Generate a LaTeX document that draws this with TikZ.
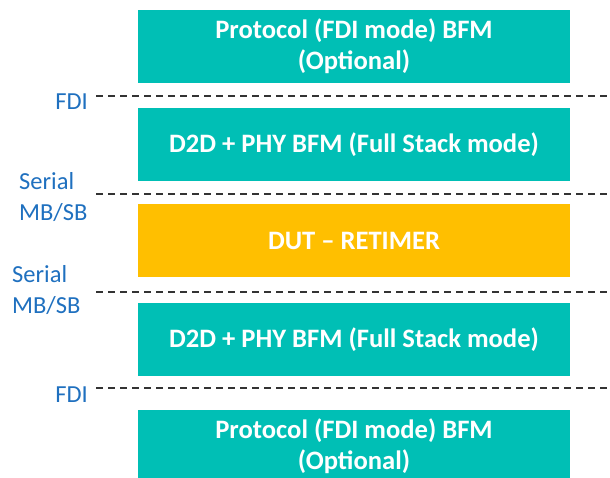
\documentclass[tikz,border=0pt]{standalone}
\usepackage{fontspec}
\setmainfont{Carlito}
\usepackage{tikz}
\definecolor{bfmteal}{rgb}{0.0,0.75,0.71}
\definecolor{dutamber}{rgb}{1.0,0.75,0.0}
\definecolor{lblblue}{rgb}{0.12,0.44,0.75}
\definecolor{dashgray}{rgb}{0.2,0.2,0.2}
\tikzset{
  layerbox/.style={minimum width=432pt,minimum height=73pt,inner sep=0pt,align=center,
    text=white,font=\fontsize{26.6}{31}\selectfont\bfseries},
  bfmbox/.style={layerbox,fill=bfmteal},
  dutbox/.style={layerbox,fill=dutamber},
  ifline/.style={color=dashgray,line width=1.3pt,dash pattern=on 7pt off 5pt},
  iflabel/.style={text=lblblue,inner sep=0pt,align=left,font=\fontsize{24.5}{31}\selectfont}
}
\begin{document}
\begin{tikzpicture}[line cap=butt,line join=round,x=1pt,y=-1pt]
\clip (0,0) rectangle (610,478);
\useasboundingbox (0,0) rectangle (610,478);

% layers
\node[bfmbox] (protoTop) at (354,46.5) {Protocol (FDI mode) BFM\\(Optional)};
\node[bfmbox] (d2dTop) at (354,144.5) {D2D + PHY BFM (Full Stack mode)};
\node[dutbox] (dut) at (354,240.5) {DUT -- RETIMER};
\node[bfmbox] (d2dBot) at (354,339.5) {D2D + PHY BFM (Full Stack mode)};
\node[bfmbox] (protoBot) at (354,446) {Protocol (FDI mode) BFM\\(Optional)};

% interfaces
\coordinate (fdiTopL) at (96,96);
\coordinate (fdiTopR) at (610,96);
\coordinate (serTopL) at (96,194);
\coordinate (serTopR) at (610,194);
\coordinate (serBotL) at (96,292);
\coordinate (serBotR) at (610,292);
\coordinate (fdiBotL) at (96,388);
\coordinate (fdiBotR) at (610,388);
\draw[ifline] (fdiTopL) -- (fdiTopR);
\draw[ifline] (serTopL) -- (serTopR);
\draw[ifline] (serBotL) -- (serBotR);
\draw[ifline] (fdiBotL) -- (fdiBotR);

\node[iflabel,anchor=east] (fdiTopLbl) at (88,102) {FDI};
\node[iflabel,anchor=west] (serTopLbl) at (19,197) {Serial\\MB/SB};
\node[iflabel,anchor=west] (serBotLbl) at (12,290) {Serial\\MB/SB};
\node[iflabel,anchor=east] (fdiBotLbl) at (88,395) {FDI};
\end{tikzpicture}
\end{document}
